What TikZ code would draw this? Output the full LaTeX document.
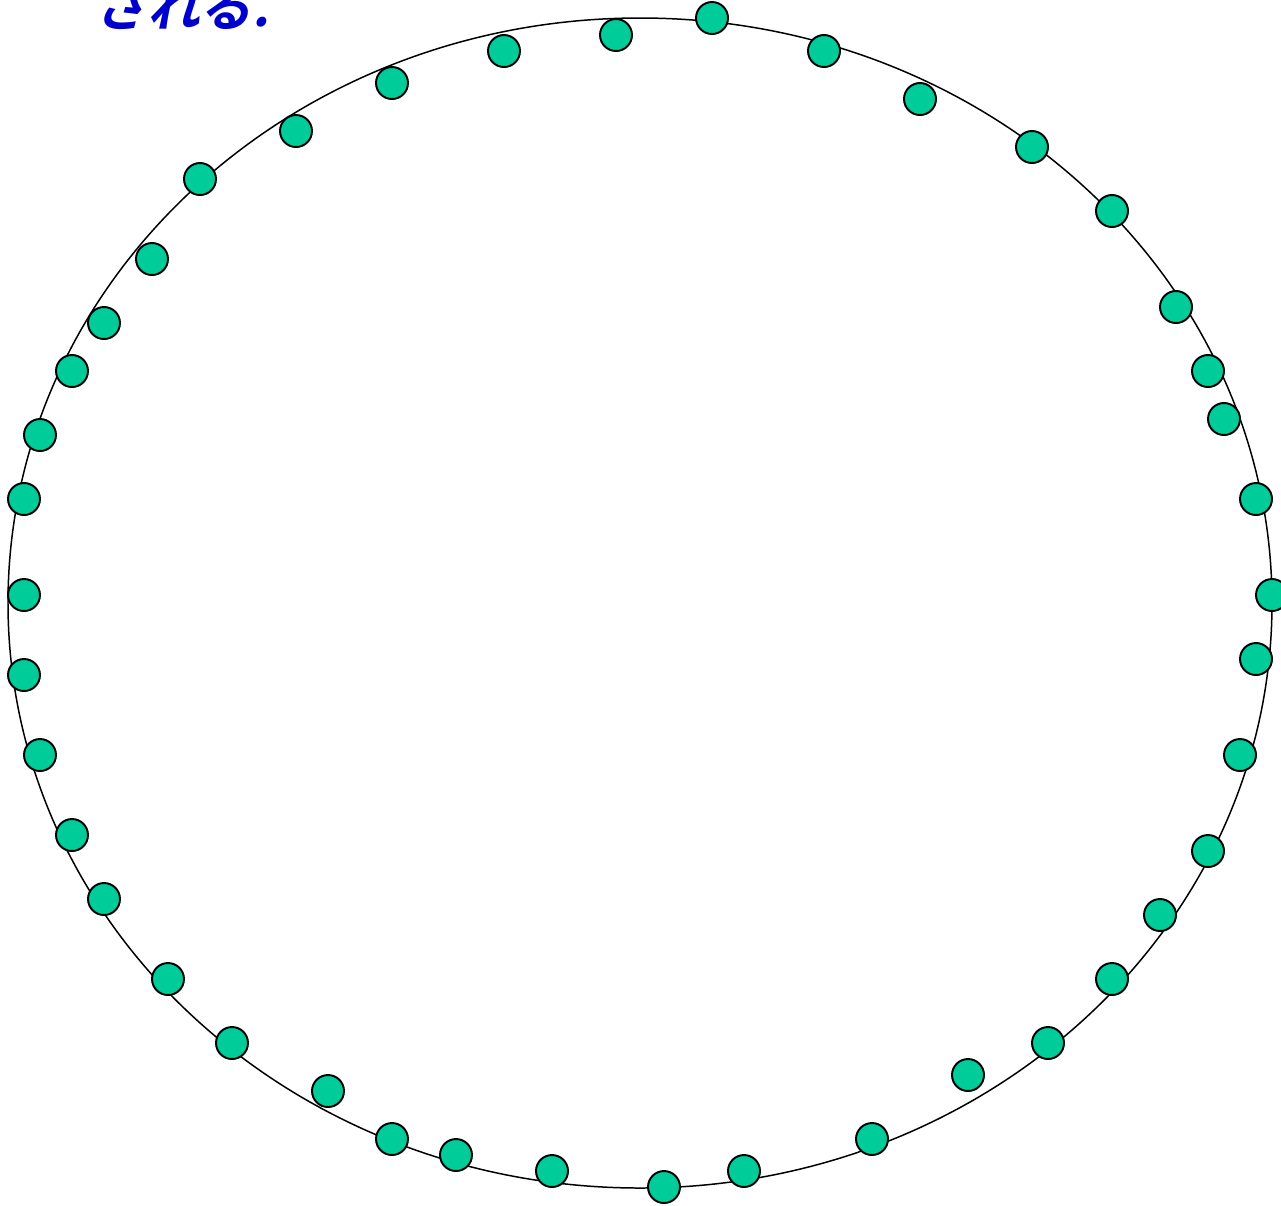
\documentclass[tikz,border=0pt]{standalone}
\usepackage{fontspec}
\newfontfamily\jpfont[FakeSlant=0.2]{Noto Sans CJK JP Bold}
\usepackage{tikz}
\usetikzlibrary{positioning}
\definecolor{punto}{RGB}{0,204,153}
\definecolor{azul}{RGB}{0,0,204}
\begin{document}
\begin{tikzpicture}[
    x=0.02cm, y=-0.02cm,
    punto/.style={circle, draw=black, line width=1.1pt, fill=punto, minimum size=0.64cm, inner sep=0pt},
    orbita/.style={draw=black, line width=0.85pt},
    titulo/.style={text=azul, font=\jpfont\fontsize{30}{30}\selectfont, inner sep=0pt, anchor=base west}
]
\useasboundingbox (0,0) rectangle (1281,1205);
% ---------- orbita ----------
\draw[orbita] (640,603) ellipse [x radius=632, y radius=-585];
% ---------- puntos ----------
\foreach \px/\py [count=\i] in {712/18, 824/51, 920/99, 1032/147, 1112/211, 1176/307,
    1208/371, 1224/419, 1256/499, 1272/595, 1256/659, 1240/755, 1208/851, 1160/915,
    1112/979, 1048/1043, 968/1075, 872/1139, 744/1171, 664/1187, 552/1171, 456/1155,
    392/1139, 328/1091, 232/1043, 168/979, 104/899, 72/835, 40/755, 24/675, 24/595,
    24/499, 40/435, 72/371, 104/323, 152/259, 200/179, 296/131, 392/83, 504/51, 616/35}
  \node[punto] (p\i) at (\px,\py) {};
% ---------- texto ----------
\node[titulo] (t0) at (94,26) {される.};
\end{tikzpicture}
\end{document}
